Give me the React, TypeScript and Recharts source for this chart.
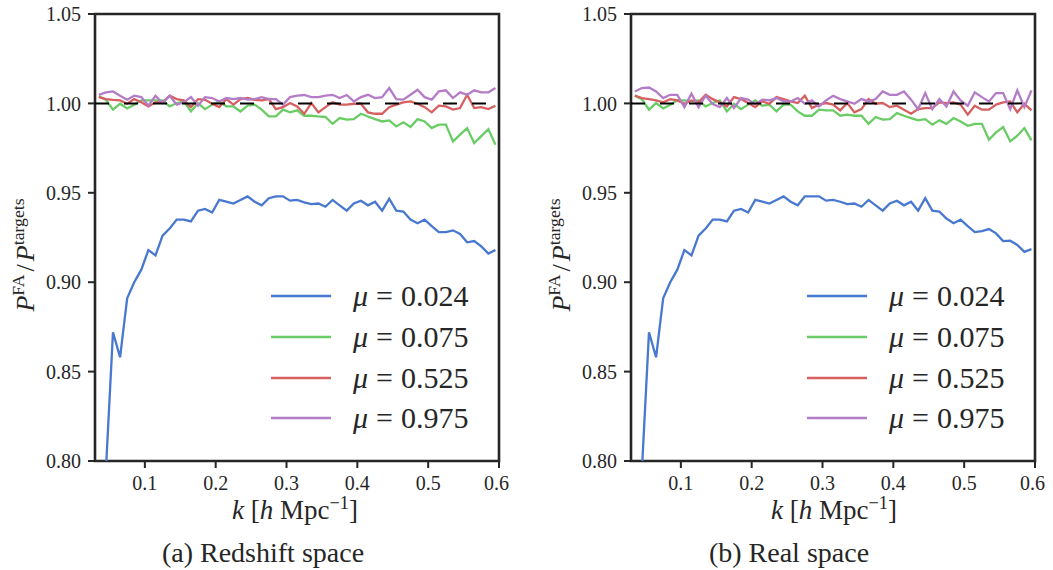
import React from "react";
import { LineChart, Line, XAxis, YAxis, ReferenceLine, ReferenceArea, Legend } from "recharts";

const kValues = [
  0.035, 0.045, 0.055, 0.065, 0.075, 0.085, 0.095, 0.105, 0.115, 0.125,
  0.135, 0.145, 0.155, 0.165, 0.175, 0.185, 0.195, 0.205, 0.215, 0.225,
  0.235, 0.245, 0.255, 0.265, 0.275, 0.285, 0.295, 0.305, 0.315, 0.325,
  0.335, 0.345, 0.355, 0.365, 0.375, 0.385, 0.395, 0.405, 0.415, 0.425,
  0.435, 0.445, 0.455, 0.465, 0.475, 0.485, 0.495, 0.505, 0.515, 0.525,
  0.535, 0.545, 0.555, 0.565, 0.575, 0.585, 0.595,
];

const muLabels = ["0.024", "0.075", "0.525", "0.975"];
const colors = ["#4878CF", "#6ACC65", "#D65F5F", "#B47CC7"];
const xTicks = [0.1, 0.2, 0.3, 0.4, 0.5, 0.6];
const yTicks = [0.8, 0.85, 0.9, 0.95, 1.0, 1.05];

// (a) redshift space
const rsMu024 = [
  0.7, 0.795, 0.872, 0.858, 0.891, 0.9, 0.907, 0.918, 0.915, 0.926,
  0.93, 0.935, 0.935, 0.934, 0.94, 0.941, 0.939, 0.946, 0.945, 0.944,
  0.946, 0.948, 0.945, 0.943, 0.947, 0.948, 0.948, 0.9456, 0.946, 0.9447,
  0.9437, 0.944, 0.9422, 0.946, 0.943, 0.94, 0.944, 0.9456, 0.943, 0.945,
  0.94, 0.9467, 0.94, 0.9395, 0.935, 0.933, 0.935, 0.9314, 0.928, 0.928,
  0.929, 0.927, 0.9223, 0.923, 0.92, 0.916, 0.918,
];
const rsMu075 = [
  1.004, 1.002, 0.9965, 0.9998, 0.9972, 0.9993, 1.0017, 1.0017, 1.0017, 1.0017,
  0.9983, 1.0002, 1.0011, 0.9955, 1.0002, 0.9968, 0.9993, 1.0011, 0.9983, 0.9983,
  0.9955, 0.9987, 0.9993, 0.9965, 0.9927, 0.9927, 0.9965, 0.995, 0.9961, 0.9931,
  0.9931, 0.9927, 0.9924, 0.9886, 0.9918, 0.9909, 0.9912, 0.9942, 0.9927, 0.9912,
  0.9899, 0.9905, 0.9871, 0.9894, 0.9868, 0.9912, 0.9899, 0.9862, 0.9881, 0.9881,
  0.9787, 0.9825, 0.9862, 0.9778, 0.9817, 0.9856, 0.9769,
];
const rsMu525 = [
  1.0035, 1.0024, 1.002, 1.0017, 0.9998, 1.0024, 1.0006, 0.9983, 1.0006, 1.0006,
  1.0043, 1.0024, 1.0017, 0.9979, 1.0024, 1.002, 0.9998, 0.9979, 1.0024, 0.9993,
  1.0024, 1.003, 1.002, 1.0017, 1.0024, 0.9968, 0.9979, 1.0002, 0.9983, 0.9942,
  1.0002, 0.995, 0.9979, 1.0006, 0.9993, 0.9993, 0.9998, 0.9998, 0.995, 0.9942,
  0.9942, 0.9979, 0.9993, 1.0006, 1.0011, 0.9998, 0.9979, 0.995, 0.9987, 0.9983,
  0.9965, 0.9974, 1.0048, 0.9974, 0.9979, 0.9968, 0.9987,
];
const rsMu975 = [
  1.0048, 1.0062, 1.0067, 1.0043, 1.0021, 1.0043, 1.0035, 0.9987, 1.0043, 1.0002,
  1.0043, 0.9993, 1.0006, 1.0035, 0.9987, 1.0035, 1.003, 1.0011, 1.003, 1.0024,
  1.003, 1.0021, 1.0024, 1.0035, 1.0024, 1.0024, 0.9993, 1.0035, 1.0043, 1.0047,
  1.0035, 1.0035, 1.0043, 1.0048, 1.003, 1.0047, 1.0011, 1.0035, 1.0048, 1.003,
  1.0035, 1.0086, 1.0024, 1.0021, 1.0048, 1.0076, 1.0035, 1.0021, 1.0067, 1.0073,
  1.003, 1.0062, 1.0048, 1.0073, 1.0062, 1.0062, 1.0086,
];

// (b) real space
const reMu024 = [
  0.7, 0.795, 0.872, 0.858, 0.891, 0.9, 0.907, 0.918, 0.915, 0.926,
  0.93, 0.935, 0.935, 0.934, 0.94, 0.941, 0.939, 0.946, 0.945, 0.944,
  0.946, 0.948, 0.945, 0.943, 0.948, 0.948, 0.948, 0.9456, 0.946, 0.945,
  0.9437, 0.944, 0.9422, 0.946, 0.943, 0.94, 0.944, 0.9456, 0.943, 0.945,
  0.94, 0.947, 0.94, 0.9395, 0.9356, 0.933, 0.935, 0.9314, 0.928, 0.9286,
  0.9297, 0.9273, 0.923, 0.9232, 0.9208, 0.917, 0.9185,
];
const reMu075 = [
  1.0043, 1.0024, 0.9965, 1.0002, 0.9972, 0.9993, 1.0017, 1.0017, 1.0011, 1.0017,
  0.9983, 1.0002, 1.0017, 0.9955, 0.9998, 0.9968, 0.9993, 1.0017, 0.9987, 0.9993,
  0.9955, 0.9993, 0.9993, 0.9955, 0.9931, 0.9931, 0.9965, 0.9961, 0.9961, 0.9931,
  0.9937, 0.9931, 0.9931, 0.9886, 0.9924, 0.9909, 0.9912, 0.9946, 0.9931, 0.9918,
  0.9905, 0.9912, 0.9881, 0.9905, 0.9886, 0.9918, 0.9899, 0.9875, 0.9886, 0.9886,
  0.9797, 0.9838, 0.9868, 0.9788, 0.9819, 0.9862, 0.9793,
];
const reMu525 = [
  1.0043, 1.003, 1.0024, 1.0017, 1.0006, 1.0024, 1.0017, 0.9998, 1.0017, 1.0006,
  1.0048, 1.0024, 1.0006, 0.9983, 1.0035, 1.0024, 1.0002, 0.9979, 1.0011, 0.9998,
  1.0035, 1.0024, 1.0011, 1.0002, 1.0043, 0.9974, 0.9993, 1.0002, 0.9993, 0.9961,
  1.0002, 0.995, 0.9968, 1.0024, 0.9998, 1.0002, 0.9979, 0.9987, 0.9965, 0.9942,
  0.9968, 0.9974, 0.9974, 1.0006, 1.0002, 1.0006, 0.9993, 0.9937, 0.9987, 0.9965,
  0.9965, 0.9993, 1.0006, 1.0011, 0.995, 0.9998, 0.9961,
];
const reMu975 = [
  1.0067, 1.0086, 1.0089, 1.0067, 1.003, 1.0048, 1.0048, 0.9979, 1.0054, 0.9979,
  1.0043, 0.9996, 0.9979, 1.003, 0.9974, 1.003, 1.0021, 0.9996, 1.0021, 1.0017,
  1.003, 1.0011, 1.0011, 1.003, 0.9998, 1.0017, 0.9983, 1.0017, 1.0043, 1.0024,
  1.0011, 0.9998, 1.0024, 1.0011, 1.0024, 1.0067, 1.0048, 1.0048, 1.0067, 1.0021,
  0.9968, 1.0058, 0.9968, 1.0024, 0.9983, 1.0067, 1.0017, 0.9987, 1.0062, 1.0035,
  1.0011, 1.0058, 1.0058, 0.9968, 1.0073, 0.9979, 1.0073,
];

const FONT = "Liberation Serif, DejaVu Serif, serif";
const INK = "#262626";
const X_MIN = 0.0296;

const buildRows = (series: number[][]) =>
  kValues.map((k, i) => {
    const row: Record<string, number> = { k };
    series.forEach((s, j) => {
      row[`s${j}`] = s[i];
    });
    return row;
  });

const renderLegend = (props: any) => {
  const payload = props.payload || [];
  return (
    <div style={{ fontFamily: FONT, fontSize: 30, color: INK }}>
      {payload.map((entry: any, i: number) => (
        <div key={i} style={{ display: "flex", alignItems: "center", height: 40.7 }}>
          <svg width={60} height={6}>
            <line x1={0} y1={3} x2={60} y2={3} stroke={entry.color} strokeWidth={2.4} />
          </svg>
          <span style={{ marginLeft: 22, whiteSpace: "nowrap" }}>
            <i>μ</i>
            <span style={{ margin: "0 8px" }}>=</span>
            {entry.value}
          </span>
        </div>
      ))}
    </div>
  );
};

const Panel = ({ series, legendLeft }: { series: number[][]; legendLeft: number }) => {
  const rows = buildRows(series);
  return (
    <LineChart width={509} height={530} data={rows} margin={{ top: 14, right: 10, bottom: 39, left: 0 }}>
      <XAxis
        dataKey="k"
        type="number"
        domain={[X_MIN, 0.6]}
        allowDataOverflow
        ticks={xTicks}
        tickFormatter={(v: number) => v.toFixed(1)}
        height={30}
        axisLine={false}
        tickSize={7}
        tickMargin={8}
        tickLine={{ stroke: INK, strokeWidth: 2 }}
        tick={{ fill: INK, fontSize: 20, fontFamily: FONT }}
      />
      <YAxis
        type="number"
        domain={[0.8, 1.05]}
        allowDataOverflow
        ticks={yTicks}
        tickFormatter={(v: number) => v.toFixed(2)}
        width={95}
        axisLine={false}
        tickSize={7}
        tickMargin={7}
        tickLine={{ stroke: INK, strokeWidth: 2 }}
        tick={{ fill: INK, fontSize: 20, fontFamily: FONT }}
      />
      {series.map((_, j) => (
        <Line
          key={j}
          dataKey={`s${j}`}
          name={muLabels[j]}
          stroke={colors[j]}
          strokeWidth={2.3}
          dot={false}
          activeDot={false}
          isAnimationActive={false}
        />
      ))}
      <ReferenceLine y={1.0} stroke="#000" strokeWidth={2} strokeDasharray="14 15" />
      <ReferenceArea x1={X_MIN} x2={0.6} y1={0.8} y2={1.05} fill="none" stroke={INK} strokeWidth={2.6} />
      <Legend
        layout="vertical"
        align="center"
        verticalAlign="middle"
        content={renderLegend}
        wrapperStyle={{ left: legendLeft, top: 276, width: 235, height: 165 }}
      />
    </LineChart>
  );
};

const Abs = ({ x, y, rotate, size, children }: any) => (
  <div
    style={{
      position: "absolute",
      left: x,
      top: y,
      transform: `translate(-50%, -50%)${rotate ? " rotate(-90deg)" : ""}`,
      whiteSpace: "nowrap",
      fontFamily: FONT,
      fontSize: size,
      color: INK,
      lineHeight: 1,
    }}
  >
    {children}
  </div>
);

const YLabel = () => (
  <span>
    <i>P</i>
    <sup style={{ fontSize: "0.68em" }}>FA</sup>
    <span style={{ margin: "0 3px" }}>/</span>
    <i>P</i>
    <sup style={{ fontSize: "0.68em" }}>targets</sup>
  </span>
);

const XLabel = () => (
  <span>
    <i>k</i> [<i>h</i> Mpc<sup style={{ fontSize: "0.68em" }}>−1</sup>]
  </span>
);

export default function App() {
  return (
    <div style={{ position: "absolute", left: 0, top: 0, width: 1053, height: 570, background: "#fff" }}>
      <div style={{ position: "absolute", left: 0, top: 0 }}>
        <Panel series={[rsMu024, rsMu075, rsMu525, rsMu975]} legendLeft={271} />
      </div>
      <div style={{ position: "absolute", left: 536, top: 0 }}>
        <Panel series={[reMu024, reMu075, reMu525, reMu975]} legendLeft={271} />
      </div>
      <Abs x={24} y={255} rotate size={26}>
        <YLabel />
      </Abs>
      <Abs x={560} y={255} rotate size={26}>
        <YLabel />
      </Abs>
      <Abs x={295} y={509} size={27}>
        <XLabel />
      </Abs>
      <Abs x={834} y={509} size={27}>
        <XLabel />
      </Abs>
      <Abs x={263} y={553} size={28}>
        (a) Redshift space
      </Abs>
      <Abs x={789} y={553} size={28}>
        (b) Real space
      </Abs>
    </div>
  );
}
